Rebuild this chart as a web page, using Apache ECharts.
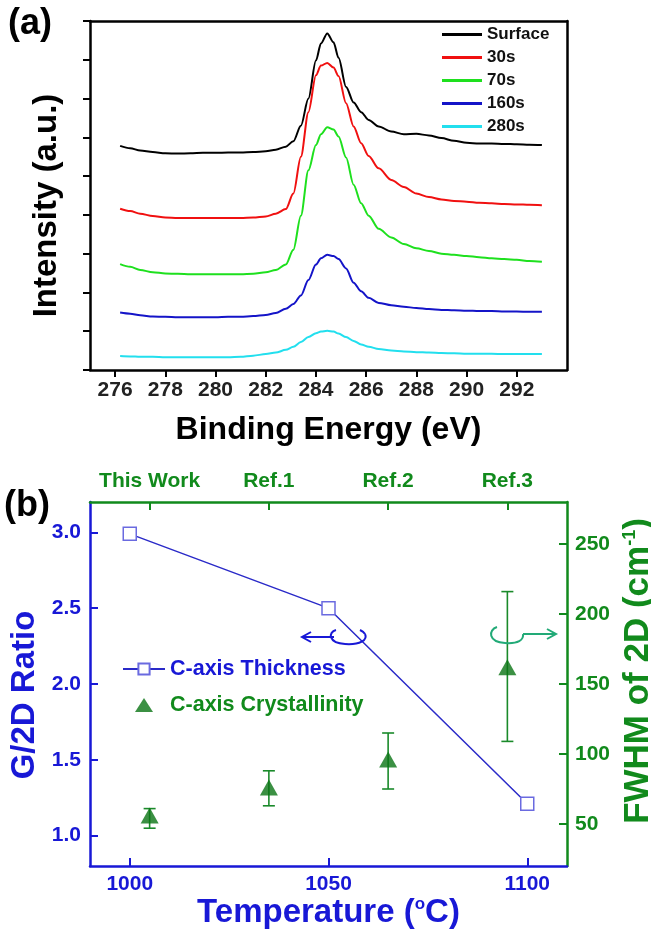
<!DOCTYPE html>
<html>
<head>
<meta charset="utf-8">
<title>XPS C1s / G-2D ratio</title>
<script src="https://cdn.jsdelivr.net/npm/echarts@6.0.0/dist/echarts.min.js"></script>
<style>
html,body{margin:0;padding:0;background:#fff;}
#main{width:651px;height:932px;}
</style>
</head>
<body>
<div id="main"></div>
<script type="text/javascript">
// ---- panel (a) : C1s spectra, stacked with offsets ----
var energy = [276.2, 276.6, 277, 277.5, 278, 278.5, 279, 279.5, 280, 280.5,
              281, 281.5, 282, 282.4, 282.8, 283.1, 283.4, 283.7, 284.0, 284.2,
              284.45, 284.7, 284.9, 285.2, 285.5, 285.8, 286.1, 286.5, 287, 287.5,
              288, 288.5, 289, 289.5, 290, 290.5, 291, 291.5, 292, 292.5, 293];
var surface = [5.78, 5.72, 5.66, 5.62, 5.59, 5.58, 5.59, 5.60, 5.60, 5.61,
               5.61, 5.62, 5.64, 5.68, 5.76, 5.90, 6.30, 7.00, 7.98, 8.42,
               8.68, 8.45, 8.05, 7.30, 6.90, 6.65, 6.45, 6.28, 6.15, 6.08,
               6.09, 6.05, 5.98, 5.91, 5.86, 5.84, 5.84, 5.83, 5.82, 5.81, 5.80];
var s30 = [4.16, 4.10, 4.03, 3.97, 3.93, 3.92, 3.92, 3.92, 3.92, 3.92,
           3.92, 3.93, 3.96, 4.03, 4.15, 4.55, 5.50, 6.65, 7.60, 7.85,
           7.92, 7.80, 7.58, 6.88, 6.28, 5.85, 5.52, 5.20, 4.90, 4.72,
           4.55, 4.46, 4.40, 4.36, 4.34, 4.31, 4.30, 4.28, 4.27, 4.26, 4.25];
var s70 = [2.73, 2.66, 2.58, 2.52, 2.49, 2.48, 2.47, 2.47, 2.47, 2.47,
           2.47, 2.48, 2.52, 2.58, 2.72, 3.10, 3.98, 5.15, 5.80, 6.08,
           6.26, 6.20, 6.02, 5.48, 4.78, 4.30, 3.98, 3.64, 3.42, 3.25,
           3.14, 3.07, 3.00, 2.97, 2.94, 2.91, 2.88, 2.86, 2.84, 2.81, 2.79];
var s160 = [1.48, 1.45, 1.41, 1.38, 1.37, 1.36, 1.36, 1.36, 1.36, 1.37,
            1.37, 1.39, 1.42, 1.47, 1.58, 1.70, 1.92, 2.32, 2.72, 2.88,
            2.97, 2.94, 2.86, 2.62, 2.25, 2.03, 1.86, 1.73, 1.67, 1.63,
            1.60, 1.57, 1.55, 1.54, 1.53, 1.52, 1.52, 1.51, 1.51, 1.50, 1.50];
var s280 = [0.36, 0.35, 0.34, 0.34, 0.33, 0.33, 0.33, 0.33, 0.33, 0.33,
            0.34, 0.37, 0.41, 0.45, 0.52, 0.60, 0.72, 0.85, 0.95, 0.99,
            1.01, 0.99, 0.94, 0.85, 0.75, 0.66, 0.60, 0.54, 0.50, 0.48,
            0.46, 0.45, 0.44, 0.43, 0.42, 0.42, 0.42, 0.41, 0.41, 0.41, 0.41];
var traceNames = ['Surface', '30s', '70s', '160s', '280s'];
var traceColors = ['#000000', '#f01010', '#1ee01e', '#1414c8', '#22dfee'];
var beTicks = [276, 278, 280, 282, 284, 286, 288, 290, 292];

// ---- panel (b) : G/2D ratio and FWHM of 2D ----
var tempX = [1000, 1050, 1100];
var g2dRatio = [2.99, 2.50, 1.21];
var refX = [1005, 1035, 1065, 1095];
var refNames = ['This Work', 'Ref.1', 'Ref.2', 'Ref.3'];
var fwhm = [56, 76, 96, 162];
var fwhmLow = [47, 63, 75, 109];
var fwhmHigh = [61, 88, 115, 216];
var tempTicks = [1000, 1050, 1100];
var ratioTicks = [1.0, 1.5, 2.0, 2.5, 3.0];
var fwhmTicks = [50, 100, 150, 200, 250];

var FONT = 'Arial, "Liberation Sans", sans-serif';
var BLUE = '#1818d6';
var GREEN = '#118a1c';
var CURL_GREEN = '#22aa77';

var myChart = echarts.init(document.getElementById('main'));

function pairs(ys) {
    return energy.map(function (e, i) { return [e, ys[i]]; });
}
var traces = [surface, s30, s70, s160, s280];
var seriesA = traces.map(function (ys, i) {
    return {
        name: traceNames[i], type: 'line',
        xAxisIndex: 0, yAxisIndex: 0,
        data: pairs(ys),
        symbol: 'none', showSymbol: false,
        smooth: 0.3, smoothMonotone: 'x',
        color: traceColors[i],
        lineStyle: { color: traceColors[i], width: 2 }
    };
});

function lineAxis(color, grid, pos, min, max) {
    return {
        type: 'value', gridIndex: grid, position: pos, min: min, max: max,
        axisLine: { onZero: false, lineStyle: { color: color, width: 2.5 } },
        axisTick: { show: false }, axisLabel: { show: false }, splitLine: { show: false }
    };
}

// rotation-arrow decorations (pixel placed annotations)
function bez(p, color) {
    return { type: 'bezierCurve', silent: true, z: 10,
        shape: { x1: p[0], y1: p[1], cpx1: p[2], cpy1: p[3], cpx2: p[4], cpy2: p[5], x2: p[6], y2: p[7] },
        style: { stroke: color, fill: null, lineWidth: 2 } };
}
function seg(pts, color) {
    return { type: 'polyline', silent: true, z: 10, shape: { points: pts },
        style: { stroke: color, fill: null, lineWidth: 2 } };
}

var option = {
    animation: false,
    backgroundColor: '#fff',
    textStyle: { fontFamily: FONT },
    grid: [
        { left: 90, top: 21, width: 477, height: 349, outerBoundsMode: 'none', containLabel: false },
        { left: 90, top: 502, width: 477, height: 364, outerBoundsMode: 'none', containLabel: false }
    ],
    legend: [{
        data: traceNames,
        icon: 'rect',
        orient: 'vertical', left: 437, top: 20,
        itemWidth: 40, itemHeight: 3, itemGap: 4,
        selectedMode: false,
        textStyle: { fontSize: 17, fontWeight: 'bold', color: '#111', lineHeight: 19, fontFamily: FONT }
    }, {
        data: [
            { name: 'C-axis Thickness', textStyle: { color: BLUE } },
            { name: 'C-axis Crystallinity', textStyle: { color: GREEN },
              icon: 'path://M0,0 M42,14 M12,14 L21,0 L30,14 Z' }
        ],
        orient: 'vertical', left: 117, top: 653,
        itemWidth: 42, itemHeight: 14, itemGap: 14,
        selectedMode: false,
        textStyle: { fontSize: 21.5, fontWeight: 'bold', fontFamily: FONT }
    }],
    xAxis: [{
        type: 'value', gridIndex: 0, min: 275, max: 294,
        axisLine: { onZero: false, lineStyle: { color: '#000', width: 2.5 } },
        axisTick: { customValues: beTicks, length: 7, lineStyle: { width: 2 } },
        axisLabel: { customValues: beTicks, fontSize: 21, fontWeight: 'bold', color: '#222', margin: 10 },
        splitLine: { show: false },
        name: 'Binding Energy (eV)', nameLocation: 'middle', nameGap: 44,
        nameTextStyle: { fontSize: 32, fontWeight: 'bold', color: '#000' }
    },
    lineAxis('#000', 0, 'top', 275, 294),
    {
        type: 'value', gridIndex: 1, min: 990, max: 1110,
        axisLine: { onZero: false, lineStyle: { color: BLUE, width: 2.5 } },
        axisTick: { customValues: tempTicks, inside: true, length: 8, lineStyle: { width: 2 } },
        axisLabel: {
            customValues: tempTicks, fontSize: 21, fontWeight: 'bold', color: BLUE, margin: 8,
            formatter: function (v) { return String(v); }
        },
        splitLine: { show: false },
        name: 'Temperature ({sup|o}C)', nameLocation: 'middle', nameGap: 30,
        nameTextStyle: {
            fontSize: 33, fontWeight: 'bold', color: BLUE,
            rich: { sup: { fontSize: 17, fontWeight: 'bold', color: BLUE, verticalAlign: 'top', fontFamily: FONT } }
        }
    }, {
        type: 'value', gridIndex: 1, position: 'top', min: 990, max: 1110,
        axisLine: { onZero: false, lineStyle: { color: GREEN, width: 2.5 } },
        axisTick: { customValues: refX, inside: true, length: 8, lineStyle: { width: 2 } },
        axisLabel: {
            customValues: refX, fontSize: 21, fontWeight: 'bold', color: GREEN, margin: 10,
            formatter: function (v) { return refNames[refX.indexOf(v)]; }
        },
        splitLine: { show: false }
    }],
    yAxis: [{
        type: 'value', gridIndex: 0, min: 0, max: 9, interval: 1,
        axisLine: { onZero: false, lineStyle: { color: '#000', width: 2.5 } },
        axisTick: { length: 7, lineStyle: { width: 2 } },
        axisLabel: { show: false },
        splitLine: { show: false },
        name: 'Intensity (a.u.)', nameLocation: 'middle', nameGap: 27, nameRotate: 90,
        nameTextStyle: { fontSize: 33, fontWeight: 'bold', color: '#000', padding: [0, 20, 0, 0] }
    },
    lineAxis('#000', 0, 'right', 0, 9),
    {
        type: 'value', gridIndex: 1, position: 'left', min: 0.8, max: 3.2,
        axisLine: { onZero: false, lineStyle: { color: BLUE, width: 2.5 } },
        axisTick: { customValues: ratioTicks, inside: true, length: 8, lineStyle: { width: 2 } },
        axisLabel: {
            customValues: ratioTicks, fontSize: 21, fontWeight: 'bold', color: BLUE, margin: 9,
            formatter: function (v) { return v.toFixed(1); }
        },
        splitLine: { show: false },
        name: 'G/2D Ratio', nameLocation: 'middle', nameGap: 46, nameRotate: 90,
        nameTextStyle: { fontSize: 33, fontWeight: 'bold', color: BLUE, padding: [0, 22, 0, 0] }
    }, {
        type: 'value', gridIndex: 1, position: 'right', min: 20, max: 280,
        axisLine: { onZero: false, lineStyle: { color: GREEN, width: 2.5 } },
        axisTick: { customValues: fwhmTicks, inside: true, length: 8, lineStyle: { width: 2 } },
        axisLabel: { customValues: fwhmTicks, fontSize: 21, fontWeight: 'bold', color: GREEN, margin: 8 },
        splitLine: { show: false },
        name: 'FWHM of 2D (cm{sup|-1})', nameLocation: 'middle', nameGap: 46, nameRotate: 90,
        nameTextStyle: {
            fontSize: 35, fontWeight: 'bold', color: GREEN, padding: [0, 0, 0, 26],
            rich: { sup: { fontSize: 18, fontWeight: 'bold', color: GREEN, verticalAlign: 'top', fontFamily: FONT } }
        }
    }],
    series: seriesA.concat([{
        name: 'C-axis Thickness', type: 'line',
        xAxisIndex: 2, yAxisIndex: 2,
        data: tempX.map(function (x, i) { return [x, g2dRatio[i]]; }),
        symbol: 'rect', symbolSize: 13,
        color: '#2a2ac8',
        lineStyle: { color: '#2a2ac8', width: 1.5 },
        itemStyle: { color: '#fff', borderColor: '#6a6ae0', borderWidth: 1.5 },
        z: 3
    }, {
        name: 'errors', type: 'custom',
        xAxisIndex: 2, yAxisIndex: 3,
        data: refX.map(function (x, i) { return [x, fwhmLow[i], fwhmHigh[i]]; }),
        encode: { x: 0, y: [1, 2] },
        renderItem: function (params, api) {
            var x = api.value(0);
            var top = api.coord([x, api.value(2)]);
            var bot = api.coord([x, api.value(1)]);
            var hw = 6;
            var st = { stroke: '#1a8a2a', lineWidth: 1.6 };
            return {
                type: 'group', children: [
                    { type: 'line', shape: { x1: top[0], y1: top[1], x2: bot[0], y2: bot[1] }, style: st },
                    { type: 'line', shape: { x1: top[0] - hw, y1: top[1], x2: top[0] + hw, y2: top[1] }, style: st },
                    { type: 'line', shape: { x1: bot[0] - hw, y1: bot[1], x2: bot[0] + hw, y2: bot[1] }, style: st }
                ]
            };
        },
        z: 2
    }, {
        name: 'C-axis Crystallinity', type: 'scatter',
        xAxisIndex: 2, yAxisIndex: 3,
        data: refX.map(function (x, i) { return [x, fwhm[i]]; }),
        symbol: 'triangle', symbolSize: [18, 16],
        color: '#0a7414',
        itemStyle: { color: '#0a7414' },
        z: 4
    }]),
    graphic: [
        { type: 'text', left: 8, top: 6, style: { text: '(a)', font: 'bold 36px ' + FONT, fill: '#000' } },
        { type: 'text', left: 4, top: 488, style: { text: '(b)', font: 'bold 36px ' + FONT, fill: '#000' } },
        bez([336, 630, 328, 632, 328, 643, 345, 644], BLUE),
        bez([345, 644, 360, 645, 368, 640, 365, 634], BLUE),
        bez([365, 634, 364, 632, 362, 631, 360, 630], BLUE),
        seg([[334, 637], [303, 637]], BLUE),
        seg([[311, 632], [302, 637], [311, 642]], BLUE),
        bez([497, 627, 488, 630, 488, 642, 505, 643], CURL_GREEN),
        bez([505, 643, 518, 644, 524, 640, 523, 634], CURL_GREEN),
        seg([[523, 634], [555, 634]], CURL_GREEN),
        seg([[547, 629], [556, 634], [547, 639]], CURL_GREEN)
    ]
};
myChart.setOption(option);
</script>
</body>
</html>
